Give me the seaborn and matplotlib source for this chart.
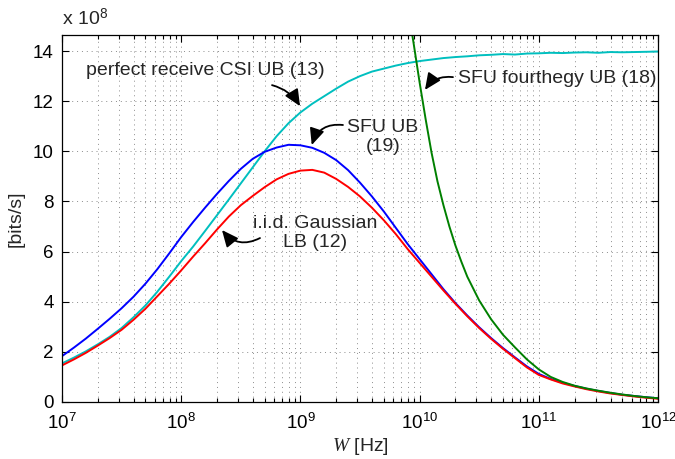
import numpy as np
import matplotlib
matplotlib.use("Agg")
import matplotlib.pyplot as plt
from matplotlib.ticker import LogLocator, NullFormatter
import seaborn as sns

# =========================
# Datos (x = log10 W, y en unidades de 1e8 bits/s)
# =========================
log_w_csi = [7.0, 7.1, 7.2, 7.3, 7.4, 7.5, 7.6, 7.7, 7.8, 7.9, 8.0, 8.1, 8.2, 8.3, 8.4,
             8.5, 8.6, 8.7, 8.8, 8.9, 9.0, 9.1, 9.2, 9.3, 9.4, 9.5, 9.6, 9.7, 9.8, 9.9,
             10.0, 10.1, 10.2, 10.3, 10.4, 10.5, 10.6, 10.7, 10.8, 10.9, 11.0, 11.1,
             11.2, 11.3, 11.4, 11.5, 11.6, 11.7, 11.8, 11.9, 12.0]
rate_csi = [1.54, 1.77, 2.02, 2.3, 2.6, 2.95, 3.38, 3.85, 4.4, 5.0, 5.62, 6.2, 6.82, 7.45,
            8.08, 8.72, 9.36, 10.0, 10.6, 11.12, 11.55, 11.9, 12.2, 12.5, 12.78, 13.0,
            13.18, 13.3, 13.42, 13.52, 13.6, 13.66, 13.72, 13.76, 13.79, 13.83, 13.85,
            13.88, 13.86, 13.9, 13.91, 13.93, 13.92, 13.94, 13.95, 13.93, 13.96, 13.95,
            13.96, 13.97, 13.98]

log_w_sfu = [7.0, 7.1, 7.2, 7.3, 7.4, 7.5, 7.6, 7.7, 7.8, 7.9, 8.0, 8.1, 8.2, 8.3, 8.4,
             8.5, 8.6, 8.7, 8.8, 8.9, 9.0, 9.1, 9.2, 9.3, 9.4, 9.5, 9.6, 9.7, 9.8, 9.9,
             10.0, 10.1, 10.2, 10.3, 10.4, 10.5, 10.6, 10.7, 10.8, 10.9, 11.0, 11.1,
             11.2, 11.3, 11.4, 11.5, 11.6, 11.7, 11.8, 11.9, 12.0]
rate_sfu = [1.83, 2.17, 2.53, 2.92, 3.32, 3.74, 4.2, 4.72, 5.3, 5.93, 6.58, 7.18, 7.75,
            8.3, 8.82, 9.3, 9.7, 9.98, 10.15, 10.26, 10.24, 10.14, 9.94, 9.65, 9.25, 8.75,
            8.2, 7.6, 6.95, 6.3, 5.7, 5.1, 4.5, 3.95, 3.45, 2.98, 2.55, 2.15, 1.78, 1.42,
            1.12, 0.92, 0.77, 0.64, 0.53, 0.44, 0.36, 0.29, 0.24, 0.19, 0.15]

log_w_iid = [7.0, 7.1, 7.2, 7.3, 7.4, 7.5, 7.6, 7.7, 7.8, 7.9, 8.0, 8.1, 8.2, 8.3, 8.4,
             8.5, 8.6, 8.7, 8.8, 8.9, 9.0, 9.1, 9.2, 9.3, 9.4, 9.5, 9.6, 9.7, 9.8, 9.9,
             10.0, 10.1, 10.2, 10.3, 10.4, 10.5, 10.6, 10.7, 10.8, 10.9, 11.0, 11.1,
             11.2, 11.3, 11.4, 11.5, 11.6, 11.7, 11.8, 11.9, 12.0]
rate_iid = [1.46, 1.7, 1.96, 2.25, 2.55, 2.88, 3.28, 3.72, 4.22, 4.72, 5.25, 5.8, 6.33,
            6.88, 7.4, 7.85, 8.22, 8.57, 8.88, 9.1, 9.23, 9.26, 9.15, 8.9, 8.58, 8.2,
            7.75, 7.25, 6.7, 6.1, 5.55, 5.0, 4.45, 3.92, 3.42, 2.95, 2.52, 2.12, 1.75,
            1.38, 1.08, 0.9, 0.74, 0.62, 0.51, 0.42, 0.34, 0.28, 0.22, 0.17, 0.13]

log_w_fourth = [9.92, 9.95, 10.0, 10.05, 10.1, 10.15, 10.2, 10.25, 10.3, 10.35, 10.4,
                10.5, 10.6, 10.7, 10.8, 10.9, 11.0, 11.1, 11.2, 11.3, 11.4, 11.5, 11.6,
                11.7, 11.8, 11.9, 12.0]
rate_fourth = [15.2, 14.3, 12.75, 11.3, 9.95, 8.8, 7.85, 7.0, 6.25, 5.6, 5.0, 4.05, 3.3,
               2.68, 2.18, 1.7, 1.3, 1.0, 0.8, 0.65, 0.54, 0.45, 0.37, 0.3, 0.24, 0.19,
               0.15]

x_ticks = [1e7, 1e8, 1e9, 1e10, 1e11, 1e12]
y_ticks = [0, 2, 4, 6, 8, 10, 12, 14]

# =========================
# Estilo
# =========================
sns.set_style("ticks")
plt.rcParams["font.family"] = ["Liberation Sans", "DejaVu Sans"]
plt.rcParams["mathtext.fontset"] = "custom"
plt.rcParams["mathtext.rm"] = "Liberation Sans"
plt.rcParams["mathtext.it"] = "Liberation Serif:italic"
plt.rcParams["mathtext.bf"] = "Liberation Sans:bold"

fig = plt.figure(figsize=(6.75, 4.59), dpi=100)
ax = fig.add_axes([62 / 675, 1 - 402 / 459, (658 - 62) / 675, (402 - 35) / 459])

series = [
    (log_w_csi, rate_csi, (0.0, 0.75, 0.75)),
    (log_w_sfu, rate_sfu, "#0000FF"),
    (log_w_iid, rate_iid, "#FF0000"),
    (log_w_fourth, rate_fourth, "#008000"),
]
for logw, rate, color in series:
    sns.lineplot(x=np.power(10.0, logw), y=rate, color=color, linewidth=1.4,
                 ax=ax, errorbar=None)

ax.set_xscale("log")
ax.set_xlim(1e7, 1e12)
ax.set_ylim(0, 14.64)
ax.set_xticks(x_ticks)
ax.set_yticks(y_ticks)
ax.xaxis.set_minor_locator(LogLocator(base=10, subs=np.arange(2, 10), numticks=100))
ax.xaxis.set_minor_formatter(NullFormatter())

ax.tick_params(which="both", direction="in", top=True, right=True, colors="k",
               labelsize=13.5, width=0.8)
ax.tick_params(which="major", length=5)
ax.tick_params(which="minor", length=3)
ax.tick_params(axis="x", which="major", pad=8)
ax.tick_params(axis="y", which="major", pad=6)
for sp in ax.spines.values():
    sp.set_color("k")
    sp.set_linewidth(0.9)

grid_kw = dict(linestyle=(0, (1, 4)), color="0.55", linewidth=0.7)
ax.grid(True, which="major", axis="both", **grid_kw)
ax.grid(True, which="minor", axis="x", **grid_kw)
ax.set_axisbelow(True)

ax.set_xlabel("$W$ [Hz]", fontsize=14, labelpad=2)
ax.set_ylabel("[bits/s]", fontsize=14, labelpad=6)
ax.text(0.0, 1.015, "x 10$^{8}$", transform=ax.transAxes, fontsize=14,
        ha="left", va="bottom")

# =========================
# Anotaciones con flechas
# =========================
fs = 14
ax.text(10 ** 8.2, 13.24, "perfect receive CSI UB (13)", fontsize=fs,
        ha="center", va="center")
ax.text(10 ** 9.693, 10.57, "SFU UB\n(19)", fontsize=fs, ha="center", va="center",
        multialignment="center", linespacing=1.2)
ax.text(10 ** 9.122, 6.74, "i.i.d. Gaussian\nLB (12)", fontsize=fs, ha="center",
        va="center", multialignment="center", linespacing=1.2)
ax.text(10 ** 10.318, 12.92, "SFU fourthegy UB (18)", fontsize=fs, ha="left",
        va="center")

arrows = [
    ((10 ** 8.762, 12.64), (10 ** 8.997, 11.8), -0.2),
    ((10 ** 9.357, 11.05), (10 ** 9.095, 10.25), 0.4),
    ((10 ** 8.661, 6.54), (10 ** 8.342, 6.86), -0.4),
    ((10 ** 10.28, 12.96), (10 ** 10.045, 12.45), 0.3),
]
for tail, tip, rad in arrows:
    ax.annotate("", xy=tip, xytext=tail, xycoords="data", textcoords="data",
                arrowprops=dict(arrowstyle="-|>,head_length=1.0,head_width=0.45",
                                connectionstyle=f"arc3,rad={rad}", color="k",
                                lw=1.3, shrinkA=0, shrinkB=0))

fig.savefig("out.png", dpi=100)
